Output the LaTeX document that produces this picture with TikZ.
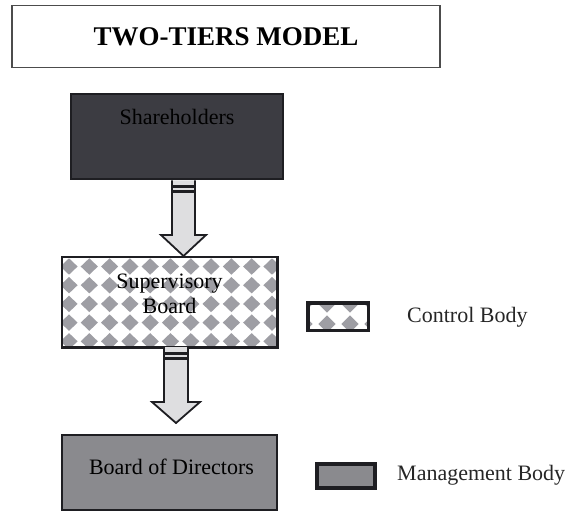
\documentclass[tikz,border=0pt]{standalone}
\usepackage{fontspec}
\setmainfont{Liberation Serif}
\usetikzlibrary{calc}
\definecolor{darkbody}{RGB}{60,60,66}
\definecolor{midbody}{RGB}{138,138,142}
\definecolor{checkgray}{RGB}{158,158,164}
\definecolor{arrowfill}{RGB}{222,222,224}
\definecolor{edge}{RGB}{30,30,34}

% block arrow from the bottom of a box down to a tip coordinate
\newcommand\drawblockarrow[4]{% #1 start node, #2 tip, #3 shaft half width, #4 head half width
  \draw[blockarrow] let \p1=(#1.south), \p2=(#2) in
    (\x2-#3,\y1) -- (\x2-#3,\y2+21pt) -- (\x2-#4,\y2+21pt) -- (\x2,\y2)
    -- (\x2+#4,\y2+21pt) -- (\x2+#3,\y2+21pt) -- (\x2+#3,\y1);
  \draw[band] let \p1=(#1.south), \p2=(#2) in
    (\x2-#3,\y1-6pt) -- (\x2+#3,\y1-6pt)
    (\x2-#3,\y1-11pt) -- (\x2+#3,\y1-11pt);
}

\begin{document}
\begin{tikzpicture}[x=1pt,y=-1pt,
  bodytext/.style={font=\fontsize{22}{25}\selectfont, text=black, inner sep=0pt},
  legendtext/.style={font=\fontsize{22}{25}\selectfont, text=black!85, inner sep=0pt, anchor=west},
  frame/.style={draw=edge, line width=2.6pt},
  legendframe/.style={draw=edge, line width=3.4pt, inner sep=0pt},
  blockarrow/.style={fill=arrowfill, draw=edge, line width=1.8pt},
  band/.style={draw=edge, line width=2.6pt},
  check/.style={fill=checkgray}]
\useasboundingbox (0,0) rectangle (577,513);

% title
\node[draw=black!70, line width=1.6pt, minimum width=428pt, minimum height=62pt,
      inner sep=0pt, font=\fontsize{27}{30}\selectfont\bfseries] (title) at (226,36.5)
      {TWO-TIERS MODEL};

% shareholders
\node[frame, fill=darkbody, minimum width=212pt, minimum height=85pt, inner sep=0pt]
      (sh) at (177,136.5) {};
\node[bodytext] (shtext) at (177,117) {Shareholders};

% supervisory board with diamond check
\node[fill=white, minimum width=215pt, minimum height=90pt, inner sep=0pt]
      (sup) at (169.5,302) {};
\begin{scope}
  \clip (sup.south west) rectangle (sup.north east);
  \foreach \i in {0,...,11}
    \foreach \j in {0,...,5}
      \fill[check] ({69+\i*20.3},{266.5+\j*18.7}) +(-8.6,0) -- +(0,-8.2) -- +(8.6,0) -- +(0,8.2) -- cycle;
\end{scope}
\draw[frame] (sup.south west) rectangle (sup.north east);
\node[bodytext, align=center] (suptext) at (169.5,294) {Supervisory\\Board};

% board of directors
\node[frame, fill=midbody, minimum width=215pt, minimum height=75pt, inner sep=0pt]
      (bod) at (169.5,472.5) {};
\node[bodytext] (bodtext) at (171.5,467) {Board of Directors};

% arrows
\coordinate (tip1) at (183.5,256);
\coordinate (tip2) at (176,423);
\drawblockarrow{sh}{tip1}{11.5pt}{22.5pt}
\drawblockarrow{sup}{tip2}{12pt}{24pt}

% legend: control body
\node[fill=white, minimum width=60pt, minimum height=27pt, inner sep=0pt]
      (legctrl) at (338,316.5) {};
\begin{scope}
  \clip (legctrl.south west) rectangle (legctrl.north east);
  \foreach \i in {0,1,2,3}
    \foreach \j in {0,1,2}
      \fill[check] ({304+\i*23},{304+\j*20}) +(-8.6,0) -- +(0,-8.6) -- +(8.6,0) -- +(0,8.6) -- cycle;
\end{scope}
\draw[legendframe] (legctrl.south west) rectangle (legctrl.north east);
\node[legendtext] (ctrltext) at (407,317) {Control Body};

% legend: management body
\node[legendframe, fill=midbody, minimum width=58pt, minimum height=24pt]
      (legmgmt) at (346,476) {};
\node[legendtext] (mgmttext) at (397,475) {Management Body};
\end{tikzpicture}
\end{document}
